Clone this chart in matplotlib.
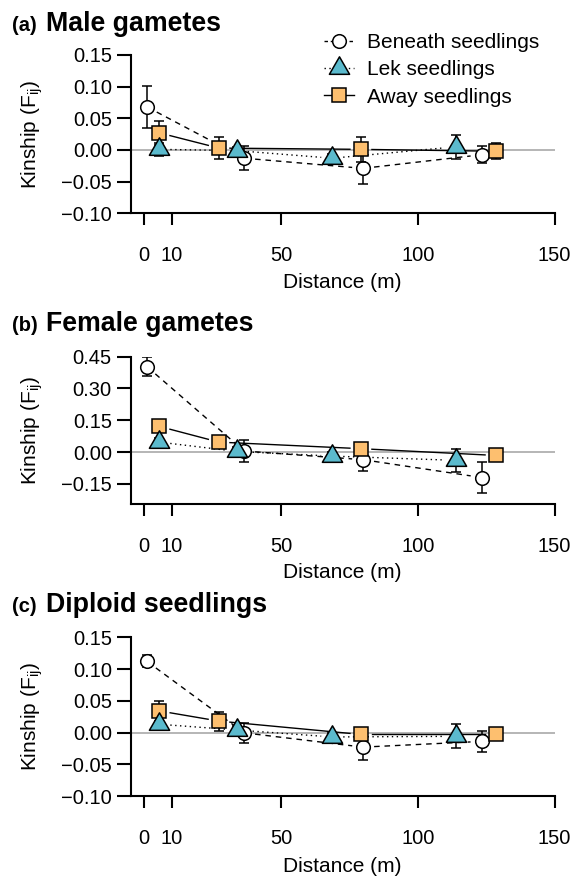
import numpy as np
import matplotlib
matplotlib.use('Agg')
from matplotlib import pyplot as plt
from matplotlib.path import Path
from matplotlib.lines import Line2D

plt.rcParams['font.family'] = ['Liberation Sans', 'DejaVu Sans']
plt.rcParams['mathtext.default'] = 'regular'

# distance classes (m) of each seedling group
x_beneath = [1.0, 36.5, 80.0, 123.3]
x_lek = [5.5, 33.8, 68.7, 113.8]
x_away = [5.5, 27.3, 79.2, 128.6]

# (a) male gametes
male_beneath = [0.068, -0.013, -0.029, -0.0075]
male_beneath_se = [0.033, 0.019, 0.024, 0.0135]
male_lek = [0.001, -0.001, -0.013, 0.005]
male_lek_se = [0.01, 0.005, 0.006, 0.019]
male_away = [0.027, 0.003, 0.001, -0.002]
male_away_se = [0.019, 0.018, 0.02, 0.013]

# (b) female gametes
female_beneath = [0.403, 0.005, -0.036, -0.12]
female_beneath_se = [0.045, 0.0525, 0.055, 0.073]
female_lek = [0.047, 0.003, -0.019, -0.039]
female_lek_se = [0.02, 0.02, 0.02, 0.055]
female_away = [0.121, 0.047, 0.016, -0.016]
female_away_se = [0.02, 0.015, 0.015, 0.01]

# (c) diploid seedlings
dipl_beneath = [0.112, -0.0005, -0.023, -0.014]
dipl_beneath_se = [0.0095, 0.0155, 0.02, 0.016]
dipl_lek = [0.013, 0.004, -0.007, -0.006]
dipl_lek_se = [0.004, 0.006, 0.006, 0.019]
dipl_away = [0.034, 0.018, -0.003, -0.003]
dipl_away_se = [0.016, 0.015, 0.004, 0.004]

xticks = [0, 10, 50, 100, 150]
yticks_small = [-0.10, -0.05, 0.00, 0.05, 0.10, 0.15]
yticks_female = [-0.15, 0.00, 0.15, 0.30, 0.45]

teal = '#5BBACD'
orange = '#FDBF6F'

# R-like triangle (centred on its centroid)
s3 = np.sqrt(3) / 2
tri = Path([(0, 1), (-s3, -0.5), (s3, -0.5), (0, 1)],
           [Path.MOVETO, Path.LINETO, Path.LINETO, Path.CLOSEPOLY])

W, H = 574, 877
fig = plt.figure(figsize=(W / 100, H / 100), dpi=100)

def px(x0, y0, x1, y1):
    # pixel box -> figure fraction rect
    return [x0 / W, 1 - y1 / H, (x1 - x0) / W, (y1 - y0) / H]

def gap_line(ax, x, y, gap, **kw):
    # lines between points that stop short of the points (R type="b")
    pts = ax.transData.transform(np.column_stack([x, y]))
    inv = ax.transData.inverted()
    for p0, p1 in zip(pts[:-1], pts[1:]):
        d = p1 - p0
        L = np.hypot(d[0], d[1])
        if L <= 2 * gap:
            continue
        u = d / L
        seg = inv.transform(np.array([p0 + u * gap, p1 - u * gap]))
        ax.plot(seg[:, 0], seg[:, 1], **kw)

panels = [
    dict(box=(130.6, 55, 554.6, 213.3), ylim=(-0.10, 0.15), yticks=yticks_small,
         tag='(a)', title='Male gametes', ty=30.7, xl=282,
         b=(male_beneath, male_beneath_se), l=(male_lek, male_lek_se), a=(male_away, male_away_se)),
    dict(box=(130.6, 356.7, 554.6, 504), ylim=(-0.245, 0.45), yticks=yticks_female,
         tag='(b)', title='Female gametes', ty=331, xl=572,
         b=(female_beneath, female_beneath_se), l=(female_lek, female_lek_se), a=(female_away, female_away_se)),
    dict(box=(130.6, 637.3, 554.6, 796), ylim=(-0.10, 0.15), yticks=yticks_small,
         tag='(c)', title='Diploid seedlings', ty=611.7, xl=866,
         b=(dipl_beneath, dipl_beneath_se), l=(dipl_lek, dipl_lek_se), a=(dipl_away, dipl_away_se)),
]

ms_circ = 9.8
ms_sq = 9.6
ms_tri = 16.8
mew = 1.1
gap = 11

for i, p in enumerate(panels):
    ax = fig.add_axes(px(*p['box']))
    ax.set_xlim(-5, 150)
    ax.set_ylim(*p['ylim'])
    ax.spines['top'].set_visible(False)
    ax.spines['right'].set_visible(False)
    ax.spines['left'].set_linewidth(1.5)
    ax.spines['bottom'].set_linewidth(1.5)
    ax.set_xticks(xticks)
    ax.set_xticklabels([str(t) for t in xticks])
    ax.set_yticks(p['yticks'])
    ax.set_yticklabels(['%.2f' % t if t >= 0 else '\u2212%.2f' % abs(t) for t in p['yticks']])
    ax.tick_params(axis='x', direction='out', length=8.5, width=1.5, pad=15, labelsize=14.5)
    ax.tick_params(axis='y', direction='out', length=10, width=1.5, pad=3.5, labelsize=14.5)

    ax.axhline(0, color='#b5b5b5', lw=1.4, zorder=0)

    # Beneath seedlings: open circles, dashed
    gap_line(ax, x_beneath, p['b'][0], gap, color='black', lw=1, dashes=(4, 3.5), zorder=1)
    ax.errorbar(x_beneath, p['b'][0], yerr=p['b'][1], fmt='none', ecolor='black',
                elinewidth=1.1, capsize=3.9, capthick=1.1, zorder=2)
    ax.plot(x_beneath, p['b'][0], ls='none', marker='o', ms=ms_circ, mfc='white',
            mec='black', mew=mew, zorder=2.1)

    # Away seedlings: orange squares, solid
    gap_line(ax, x_away, p['a'][0], gap, color='black', lw=1, zorder=1)
    ax.errorbar(x_away, p['a'][0], yerr=p['a'][1], fmt='none', ecolor='black',
                elinewidth=1.1, capsize=3.9, capthick=1.1, zorder=3)
    ax.plot(x_away, p['a'][0], ls='none', marker='s', ms=ms_sq, mfc=orange,
            mec='black', mew=mew, zorder=3.1)

    # Lek seedlings: teal triangles, dotted
    gap_line(ax, x_lek, p['l'][0], gap, color='black', lw=1, dashes=(1, 2.5), zorder=1)
    ax.errorbar(x_lek, p['l'][0], yerr=p['l'][1], fmt='none', ecolor='black',
                elinewidth=1.1, capsize=3.9, capthick=1.1, zorder=4)
    ax.plot(x_lek, p['l'][0], ls='none', marker=tri, ms=ms_tri, mfc=teal,
            mec='black', mew=mew, zorder=4.1)

    ax.text(-0.232, 0.5, r'Kinship (F$_{ij}$)', transform=ax.transAxes, rotation=90,
            ha='center', va='center', fontsize=15)
    fig.text(342.6 / W, 1 - p['xl'] / H, 'Distance (m)', ha='center', va='center', fontsize=15)
    fig.text(12 / W, 1 - p['ty'] / H, p['tag'], fontsize=14.5, weight='bold', va='baseline')
    fig.text(46.5 / W, 1 - p['ty'] / H, p['title'], fontsize=19.3, weight='bold', va='baseline')

    if i == 0:
        handles = [
            Line2D([], [], color='black', lw=1, dashes=(2.5, 2), marker='o', ms=ms_circ,
                   mfc='white', mec='black', mew=mew),
            Line2D([], [], color='black', lw=1, dashes=(1, 2.5), marker=tri, ms=ms_tri,
                   mfc=teal, mec='black', mew=mew),
            Line2D([], [], color='black', lw=1, marker='s', ms=ms_sq,
                   mfc=orange, mec='black', mew=mew),
        ]
        ax.legend(handles, ['Beneath seedlings', 'Lek seedlings', 'Away seedlings'],
                  loc='upper left', bbox_to_anchor=(324 / W, 1 - 33 / H),
                  bbox_transform=fig.transFigure, frameon=False, fontsize=15,
                  handlelength=1.45, handletextpad=0.6, labelspacing=0.4,
                  borderpad=0, borderaxespad=0)

fig.savefig('out.png', dpi=100)
